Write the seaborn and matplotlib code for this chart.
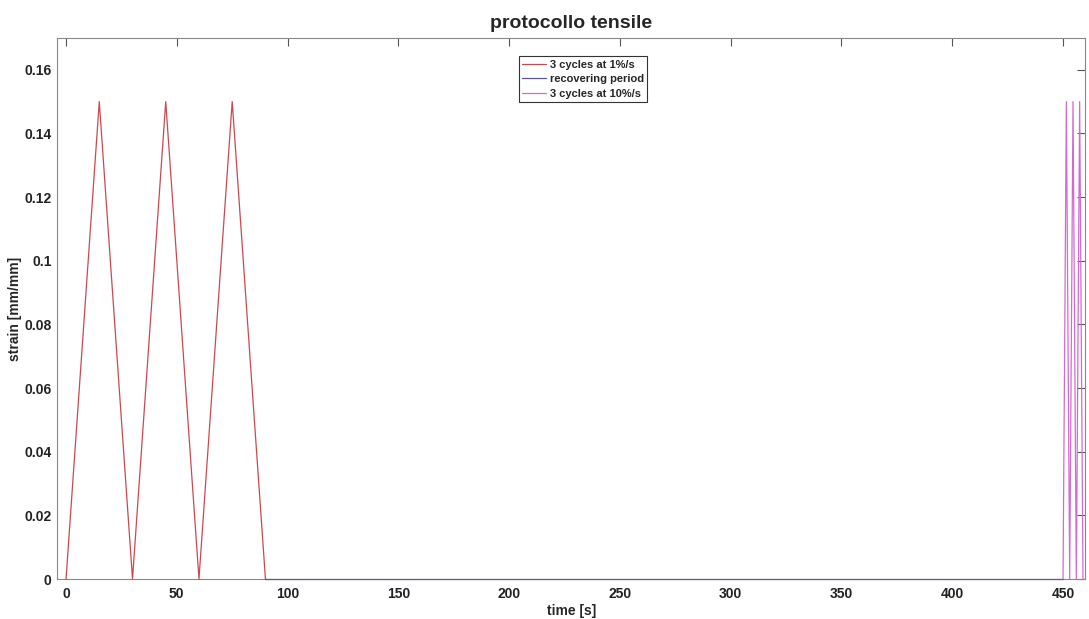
import numpy as np
import pandas as pd
import matplotlib
matplotlib.use("Agg")
import matplotlib.pyplot as plt
import matplotlib.ticker as mticker
import seaborn as sns

# Data
slow_time = [0, 15, 30, 45, 60, 75, 90]
slow_strain = [0, 0.15, 0, 0.15, 0, 0.15, 0]
rec_time = [90, 450]
rec_strain = [0, 0]
fast_time = [450, 451.5, 453, 454.5, 456, 457.5, 459]
fast_strain = [0, 0.15, 0, 0.15, 0, 0.15, 0]
series_names = ["3 cycles at 1%/s", "recovering period", "3 cycles at 10%/s"]
x_ticks = [0, 50, 100, 150, 200, 250, 300, 350, 400, 450]
y_ticks = [0, 0.02, 0.04, 0.06, 0.08, 0.1, 0.12, 0.14, 0.16]

series_data = [(slow_time, slow_strain), (rec_time, rec_strain), (fast_time, fast_strain)]

sns.set_style("white")
plt.rcParams['font.family'] = ['Liberation Sans', 'DejaVu Sans']

fig = plt.figure(figsize=(10.89, 6.19), dpi=100)
ax = fig.add_axes([0.0525, 0.0646, 0.944, 0.874])

palette = ["#cc4850", "#5a56a8", "#d36ad3"]
for name, (t, s), c in zip(series_names, series_data, palette):
    sns.lineplot(x=np.asarray(t, dtype=float), y=np.asarray(s, dtype=float), sort=False,
                 color=c, linewidth=0.9, ax=ax, label=name, estimator=None)
for ln in ax.lines:
    ln.set_zorder(3)
    ln.set_clip_on(False)

ax.set_xlim(-4, 460)
ax.set_ylim(0, 0.17)
ax.set_xticks(x_ticks)
ax.set_yticks(y_ticks)
ax.yaxis.set_major_formatter(mticker.FuncFormatter(lambda v, p: "{:g}".format(round(v, 4))))
for spine in ax.spines.values():
    spine.set_visible(True)
    spine.set_color("#888888")
    spine.set_linewidth(0.8)
    spine.set_zorder(2)
ax.tick_params(direction="in", length=6, width=0.8, color="#555555", top=True, right=True,
               labelsize=10)
ax.tick_params(axis="y", pad=4)
ax.tick_params(axis="x", pad=6)
for lbl in ax.get_xticklabels() + ax.get_yticklabels():
    lbl.set_fontweight("bold")
    lbl.set_color("#222222")

ax.set_title("protocollo tensile", fontsize=14, fontweight="bold", pad=7)
ax.set_xlabel("time [s]", fontsize=10, fontweight="bold", labelpad=2)
ax.set_ylabel("strain [mm/mm]", fontsize=10, fontweight="bold", labelpad=2)

leg = ax.legend(loc="upper center", bbox_to_anchor=(0.5115, 0.966),
                prop={"weight": "bold", "size": 8}, frameon=True, fancybox=False,
                handlelength=2.2, handletextpad=0.3, borderpad=0.3, labelspacing=0.4,
                borderaxespad=0, edgecolor="#333333", framealpha=1)
leg.get_frame().set_linewidth(0.8)

fig.savefig("out.png", dpi=100)
